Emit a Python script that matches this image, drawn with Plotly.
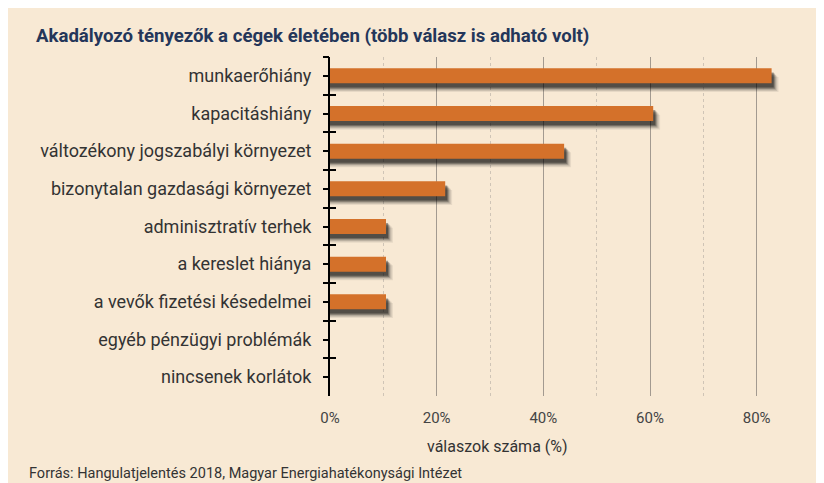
import plotly.graph_objects as go

categories = ["munkaerőhiány", "kapacitáshiány", "változékony jogszabályi környezet",
              "bizonytalan gazdasági környezet", "adminisztratív terhek", "a kereslet hiánya",
              "a vevők fizetési késedelmei", "egyéb pénzügyi problémák", "nincsenek korlátok"]
values = [82.8, 60.6, 43.9, 21.6, 10.5, 10.5, 10.5, 0, 0]
tick_vals = [0, 20, 40, 60, 80]
tick_text = ["0%", "20%", "40%", "60%", "80%"]

title_text = "Akadályozó tényezők a cégek életében (több válasz is adható volt)"
xaxis_title = "válaszok száma (%)"
source_text = "Forrás: Hangulatjelentés 2018, Magyar Energiahatékonysági Intézet"

W, H = 824, 483
OFF = 8  # page body margin
L, R, T, B = 322, 38, 49, 95
PW, PH = W - L - R, H - T - B

def px(x):  # reference screen x -> paper
    return (x - OFF - L) / PW

def py(y):  # reference screen y -> paper
    return (H - B - (y - OFF)) / PH

BG = "#F8E9D4"
ORANGE = "#D4712A"
FONT = "Roboto"

fig = go.Figure()

# blurred drop shadow layers
shadow_layers = [(0.23, 1.3, 0.07), (0.20, 1.05, 0.11), (0.17, 0.8, 0.17),
                 (0.14, 0.6, 0.25), (0.11, 0.4, 0.35)]
for off, dx, a in shadow_layers:
    fig.add_trace(go.Bar(
        y=categories, x=[v + dx if v > 0 else 0 for v in values], orientation="h",
        offset=-0.2 + off, width=0.4, marker=dict(color=f"rgba(0,0,0,{a})", line=dict(width=0)),
        hoverinfo="skip", showlegend=False))

fig.add_trace(go.Bar(
    y=categories, x=values, orientation="h", offset=-0.2, width=0.4,
    marker=dict(color=ORANGE, line=dict(width=0)), showlegend=False))

# invisible traces to carry boundary tick axes
for ax in ["y2", "y3"]:
    fig.add_trace(go.Scatter(x=[0] * len(categories), y=categories, yaxis=ax, mode="markers",
                             marker=dict(opacity=0), hoverinfo="skip", showlegend=False))

yrange = [len(categories) - 0.5, -0.5]
common_y = dict(type="category", categoryorder="array", categoryarray=categories,
                range=yrange, showgrid=False, zeroline=False)

fig.update_layout(
    width=W, height=H,
    margin=dict(l=L, r=R, t=T, b=B),
    paper_bgcolor=BG, plot_bgcolor="rgba(0,0,0,0)",
    barmode="overlay",
    font=dict(family=FONT, color="#333333"),
    title=dict(text=f"<b>{title_text}</b>", x=28 / W, y=1 - 27 / H, xanchor="left", yanchor="middle",
               font=dict(family=FONT, size=18.6, color="#24365A")),
    xaxis=dict(range=[0, 87], tickvals=tick_vals, ticktext=tick_text,
               showgrid=True, gridcolor="#A39A90", gridwidth=1,
               minor=dict(dtick=10, showgrid=True, gridcolor="#CFC4B6", griddash="dot", gridwidth=1),
               zeroline=False, showline=False, ticks="outside", ticklen=8,
               tickcolor="rgba(0,0,0,0)", tickfont=dict(size=15, color="#444444")),
    yaxis=dict(**common_y, showline=True, linecolor="black", linewidth=2,
               ticks="outside", ticklen=5, tickwidth=1.5, tickcolor="black",
               ticklabelstandoff=8, tickfont=dict(size=18, color="#333333")),
    yaxis2=dict(**common_y, overlaying="y", showticklabels=False, tickson="boundaries",
                ticks="outside", ticklen=6, tickwidth=1.5, tickcolor="black", showline=False),
    yaxis3=dict(**common_y, overlaying="y", showticklabels=False, tickson="boundaries",
                ticks="inside", ticklen=6, tickwidth=1.5, tickcolor="black", showline=False),
    annotations=[
        dict(text=xaxis_title, xref="paper", yref="paper", x=px(497), y=py(446),
             xanchor="center", yanchor="middle", showarrow=False,
             font=dict(size=16, color="#333333")),
        dict(text=source_text, xref="paper", yref="paper", x=px(27), y=py(463),
             xanchor="left", yanchor="top", showarrow=False,
             font=dict(size=14.5, color="#333333")),
    ],
)

fig.write_html("out.html")
